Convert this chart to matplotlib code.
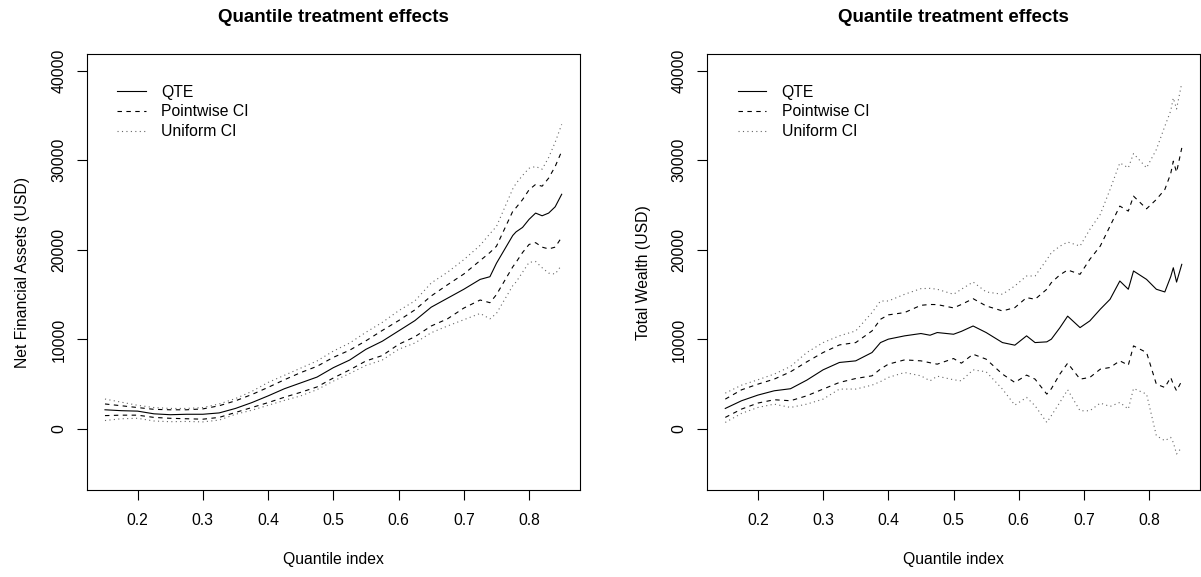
import matplotlib
matplotlib.use("Agg")
import matplotlib.pyplot as plt

plt.rcParams['font.family'] = ['Liberation Sans', 'DejaVu Sans']

# ---- left panel: Net Financial Assets ----
q_nfa = [0.15, 0.175, 0.20, 0.225, 0.25, 0.275, 0.30, 0.325, 0.35, 0.375,
         0.40, 0.425, 0.45, 0.475, 0.50, 0.525, 0.55, 0.575, 0.60, 0.625,
         0.65, 0.675, 0.70, 0.725, 0.74, 0.75, 0.775, 0.78, 0.79, 0.80,
         0.81, 0.82, 0.83, 0.84, 0.85]
qte_nfa = [2150, 2050, 2000, 1700, 1600, 1650, 1650, 1800, 2300, 2950,
           3700, 4500, 5150, 5800, 6850, 7700, 8900, 9800, 10950, 12100,
           13600, 14600, 15600, 16700, 17000, 18500, 21600, 22000, 22500, 23400,
           24100, 23800, 24100, 24800, 26200]
pw_hi_nfa = [2800, 2600, 2400, 2200, 2150, 2150, 2250, 2600, 3150, 3850,
             4650, 5500, 6300, 7000, 8000, 8800, 9850, 11000, 12100, 13300,
             14850, 16100, 17300, 18800, 19700, 20400, 24300, 24700, 25600, 26700,
             27300, 27100, 28000, 29300, 31000]
pw_lo_nfa = [1500, 1550, 1550, 1300, 1200, 1150, 1100, 1300, 1850, 2400,
             2950, 3550, 4100, 4700, 5700, 6600, 7600, 8200, 9450, 10300,
             11500, 12300, 13500, 14400, 14100, 15000, 18100, 18600, 19700, 20600,
             20800, 20300, 20100, 20300, 21400]
un_hi_nfa = [3350, 3000, 2650, 2400, 2300, 2300, 2400, 2800, 3400, 4200,
             5200, 6000, 6800, 7600, 8700, 9600, 10800, 11900, 13200, 14300,
             16300, 17500, 18900, 20500, 21800, 22600, 26800, 27400, 28300, 29100,
             29300, 29000, 30300, 32000, 34000]
un_lo_nfa = [950, 1150, 1200, 900, 820, 850, 800, 1000, 1650, 2100,
             2650, 3200, 3700, 4400, 5350, 6200, 7100, 7700, 8900, 9600,
             10750, 11500, 12200, 12900, 12300, 12900, 16000, 16400, 17500, 18600,
             18700, 18000, 17400, 17300, 18300]

# ---- right panel: Total Wealth ----
q_tw = [0.15, 0.175, 0.20, 0.225, 0.25, 0.275, 0.30, 0.325, 0.35, 0.375,
        0.388, 0.40, 0.425, 0.45, 0.464, 0.475, 0.50, 0.512, 0.53, 0.55,
        0.575, 0.594, 0.612, 0.625, 0.643, 0.65, 0.663, 0.675, 0.694, 0.709,
        0.725, 0.74, 0.755, 0.768, 0.776, 0.796, 0.811, 0.824, 0.833, 0.837,
        0.842, 0.85]
qte_tw = [2300, 3160, 3790, 4270, 4500, 5460, 6610, 7430, 7610, 8540,
          9650, 10030, 10400, 10660, 10470, 10770, 10580, 10900, 11500, 10770,
          9650, 9360, 10400, 9650, 9730, 10030, 11300, 12600, 11320, 12070,
          13370, 14480, 16520, 15600, 17640, 16700, 15600, 15300, 17000, 18000,
          16400, 18380]
pw_hi_tw = [3340, 4380, 5010, 5570, 6390, 7500, 8540, 9390, 9650, 10950,
            12250, 12740, 13000, 13810, 13900, 13890, 13520, 13900, 14550, 13740,
            13180, 13550, 14670, 14480, 15600, 16340, 17200, 17750, 17270, 18940,
            20420, 22650, 24880, 24320, 25990, 24580, 25620, 26730, 28500, 29890,
            28660, 31370]
pw_lo_tw = [1300, 2230, 2900, 3270, 3160, 3710, 4460, 5200, 5640, 5940,
            6700, 7240, 7720, 7610, 7400, 7240, 7870, 7350, 8350, 7800,
            6130, 5200, 6020, 5570, 3900, 4500, 6130, 7350, 5570, 5760,
            6680, 6870, 7610, 7130, 9280, 8540, 5010, 4640, 5760, 5000,
            4270, 5380]
un_hi_tw = [4010, 4900, 5500, 6130, 6980, 8540, 9650, 10400, 10950, 13000,
            14290, 14290, 15040, 15670, 15700, 15600, 15040, 15600, 16410, 15300,
            15040, 15970, 17080, 17080, 18900, 19680, 20400, 20870, 20420, 22280,
            23950, 26730, 29700, 29150, 30740, 29150, 31190, 33790, 35500, 36940,
            35720, 38620]
un_lo_tw = [740, 1750, 2410, 2780, 2410, 2780, 3340, 4460, 4460, 4900,
            5300, 5760, 6310, 5940, 5380, 5900, 5500, 5380, 6610, 6390,
            4460, 2670, 3530, 2600, 740, 1500, 2970, 4380, 2040, 2040,
            2900, 2520, 2970, 2230, 4530, 3900, -740, -1300, -930, -1500,
            -2780, -2040]

xticks = [0.2, 0.3, 0.4, 0.5, 0.6, 0.7, 0.8]
yticks = [0, 10000, 20000, 30000, 40000]

fig = plt.figure(figsize=(12.01, 5.77), dpi=100)
ax1 = fig.add_axes([0.0722, 0.1508, 0.4107, 0.7548])
ax2 = fig.add_axes([0.5887, 0.1508, 0.4105, 0.7548])

panels = [
    (ax1, q_nfa, qte_nfa, pw_hi_nfa, pw_lo_nfa, un_hi_nfa, un_lo_nfa, "Net Financial Assets (USD)", -0.131),
    (ax2, q_tw, qte_tw, pw_hi_tw, pw_lo_tw, un_hi_tw, un_lo_tw, "Total Wealth (USD)", -0.128),
]

for ax, q, qte, pwh, pwl, unh, unl, ylab, ylx in panels:
    ax.plot(q, qte, color='black', lw=0.8, label='QTE')
    ax.plot(q, pwh, color='black', lw=0.8, ls=(0, (4, 4)), label='Pointwise CI')
    ax.plot(q, pwl, color='black', lw=0.8, ls=(0, (4, 4)))
    ax.plot(q, unh, color='#666666', lw=0.8, ls=(0, (1, 3)), label='Uniform CI')
    ax.plot(q, unl, color='#666666', lw=0.8, ls=(0, (1, 3)))

    ax.set_xlim(0.122, 0.878)
    ax.set_ylim(-6800, 41800)
    ax.set_xticks(xticks)
    ax.set_xticklabels([str(t) for t in xticks])
    ax.set_yticks(yticks)
    ax.set_yticklabels([str(t) for t in yticks], rotation=90, va='center')
    ax.tick_params(direction='out', length=7.2, width=0.8, labelsize=11.3)
    ax.tick_params(axis='x', pad=9.5)
    ax.tick_params(axis='y', pad=7.5)
    for s in ax.spines.values():
        s.set_linewidth(0.8)

    ax.text(0.5, 1.084, "Quantile treatment effects", transform=ax.transAxes,
            ha='center', va='center', fontsize=13.5, fontweight='bold')
    ax.text(0.5, -0.16, "Quantile index", transform=ax.transAxes,
            ha='center', va='center', fontsize=11.3)
    ax.text(ylx, 0.5, ylab, transform=ax.transAxes, rotation=90,
            ha='center', va='center', fontsize=11.3)

    ax.legend(loc='upper left', bbox_to_anchor=(0.062, 0.9306), frameon=False,
              fontsize=11.3, handlelength=1.8, handletextpad=1.0,
              labelspacing=0.3, borderpad=0, borderaxespad=0)

fig.savefig("out.png", dpi=100)
